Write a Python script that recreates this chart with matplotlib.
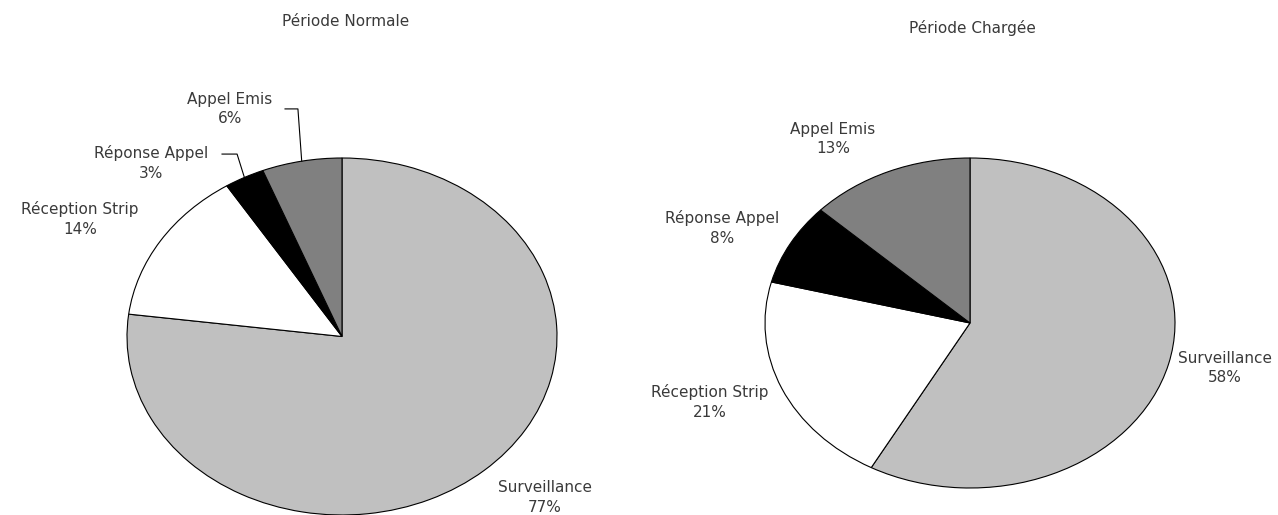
import matplotlib
matplotlib.use('Agg')

import matplotlib.pyplot as plt
import numpy as np

# slice order: clockwise from 12 o'clock
categories = ["Surveillance", "Réception Strip", "Réponse Appel", "Appel Emis"]
normal_pct = [77, 14, 3, 6]
busy_pct = [58, 21, 8, 13]
titles = ["Période Normale", "Période Chargée"]

COLORS = ['#c0c0c0', '#ffffff', '#000000', '#808080']
TXT = '#3a3a3a'
FONT = 'DejaVu Sans'
FS = 11

# label centres, in pie-radius units (layout only)
normal_lbl = [(0.944, -0.904), (-1.219, 0.657), (-0.888, 0.972), (-0.521, 1.275)]
busy_lbl = [(1.244, -0.273), (-1.268, -0.479), (-1.210, 0.576), (-0.668, 1.115)]
# leader lines: (slice index, label-side x, elbow x, y)
normal_lead = [(3, -0.265, -0.205, 1.275), (2, -0.558, -0.488, 1.022)]


def mkpie(ax, values, lbl, leads):
    wedges, _ = ax.pie(values, colors=COLORS, startangle=90, counterclock=False,
                       wedgeprops=dict(edgecolor='black', linewidth=0.8))
    ax.set_aspect('auto')
    ax.set_xlim(-1, 1)
    ax.set_ylim(-1, 1)
    for name, v, (x, y) in zip(categories, values, lbl):
        ax.text(x, y, "{}\n{}%".format(name, v), ha='center', va='center',
                fontsize=FS, color=TXT, family=FONT, linespacing=1.4,
                clip_on=False)
    for idx, x0, x1, y in leads:
        w = wedges[idx]
        mid = np.deg2rad((w.theta1 + w.theta2) / 2.0)
        ax.plot([x0, x1, np.cos(mid)], [y, y, np.sin(mid)], color='black',
                lw=0.8, clip_on=False)


def main():
    fig = plt.figure(figsize=(12.78, 5.15), dpi=100)

    ax1 = fig.add_axes([127 / 1278, 0.0, 430 / 1278, 357 / 515])
    mkpie(ax1, normal_pct, normal_lbl, normal_lead)

    ax2 = fig.add_axes([765 / 1278, 27 / 515, 410 / 1278, 330 / 515])
    mkpie(ax2, busy_pct, busy_lbl, [])

    fig.text(346 / 1278, 1 - 22 / 515, titles[0], ha='center', va='center',
             fontsize=FS, color=TXT, family=FONT)
    fig.text(972 / 1278, 1 - 28 / 515, titles[1], ha='center', va='center',
             fontsize=FS, color=TXT, family=FONT)

    fig.savefig('out.png', dpi=100)


if __name__ == "__main__":
    main()
